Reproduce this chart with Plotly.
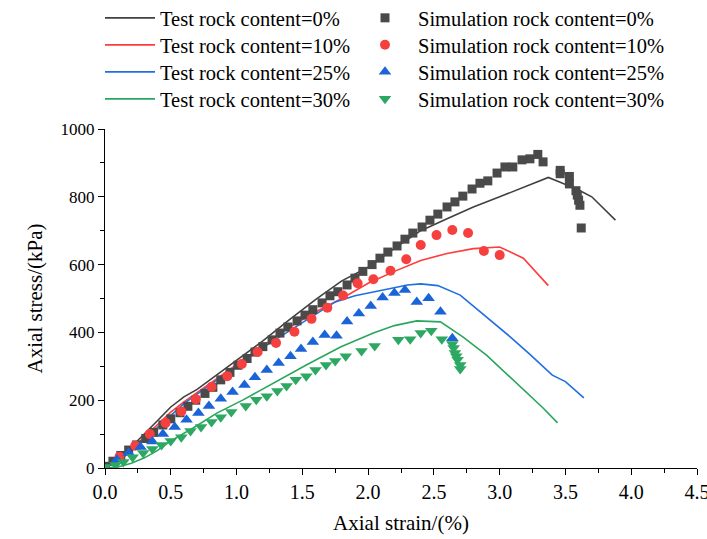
import plotly.graph_objects as go

# ---- test curves (lines) ----
test0_x = [0, 0.1, 0.2, 0.3, 0.4, 0.5, 0.6, 0.7, 0.85, 1.0, 1.2, 1.4, 1.6, 1.8, 2.0, 2.2, 2.4,
           2.6, 2.8, 3.0, 3.2, 3.37, 3.46, 3.6, 3.7, 3.88]
test0_y = [0, 25, 62, 100, 140, 180, 210, 232, 275, 320, 375, 437, 497, 552, 592, 648, 700,
           735, 770, 800, 830, 857, 843, 820, 800, 731]

test10_x = [0, 0.1, 0.2, 0.3, 0.4, 0.5, 0.6, 0.7, 0.85, 1.0, 1.2, 1.4, 1.6, 1.8, 2.0, 2.2, 2.4,
            2.6, 2.8, 2.95, 3.0, 3.18, 3.37]
test10_y = [0, 22, 55, 92, 130, 165, 195, 222, 262, 305, 360, 415, 460, 500, 545, 580, 612,
            633, 647, 652, 652, 619, 538]

test25_x = [0, 0.1, 0.2, 0.3, 0.4, 0.5, 0.6, 0.7, 0.85, 1.0, 1.2, 1.4, 1.6, 1.75, 1.9, 2.1, 2.3,
            2.4, 2.53, 2.7, 2.9, 3.08, 3.23, 3.4, 3.5, 3.64]
test25_y = [0, 20, 50, 85, 122, 157, 190, 218, 258, 300, 355, 405, 455, 490, 508, 525, 540,
            543, 538, 510, 445, 387, 335, 274, 255, 207]

test30_x = [0, 0.1, 0.2, 0.3, 0.4, 0.5, 0.67, 0.85, 1.05, 1.28, 1.53, 1.79, 2.04, 2.2, 2.37,
            2.55, 2.72, 2.9, 3.05, 3.21, 3.33, 3.44]
test30_y = [0, 3, 14, 30, 52, 80, 118, 162, 201, 251, 304, 357, 398, 420, 434,
            431, 387, 333, 278, 221, 177, 133]

# ---- simulation results (markers) ----
sim0_x = [0.0, 0.06, 0.12, 0.18, 0.24, 0.31, 0.37, 0.44, 0.50, 0.57, 0.63, 0.69, 0.76, 0.82,
          0.88, 0.95, 1.01, 1.08, 1.14, 1.20, 1.27, 1.33, 1.39, 1.46, 1.52, 1.58, 1.65, 1.71,
          1.77, 1.84, 1.90, 1.96, 2.03, 2.09, 2.15, 2.22, 2.28, 2.34, 2.41, 2.47, 2.53, 2.60,
          2.66, 2.72, 2.79, 2.85, 2.91, 2.98, 3.04, 3.10, 3.17, 3.23, 3.29, 3.33, 3.46, 3.46,
          3.53, 3.53, 3.58, 3.59, 3.60, 3.61, 3.62]
sim0_y = [5, 20, 37, 53, 68, 87, 105, 127, 145, 163, 182, 200, 220, 238,
          260, 282, 303, 323, 342, 358, 378, 398, 416, 434, 451, 467, 487, 508,
          520, 540, 560, 580, 600, 619, 637, 655, 675, 693, 711, 731, 749, 770,
          785, 802, 823, 840, 847, 870, 888, 888, 909, 912, 925, 903, 878, 868,
          860, 838, 818, 805, 790, 775, 708]

sim10_x = [0.11, 0.23, 0.34, 0.46, 0.58, 0.69, 0.81, 0.93, 1.04, 1.16, 1.30, 1.44, 1.57, 1.69,
           1.81, 1.92, 2.04, 2.17, 2.29, 2.40, 2.52, 2.64, 2.76, 2.88, 3.00]
sim10_y = [33, 66, 100, 133, 167, 203, 239, 271, 307, 342, 369, 402, 440, 473,
           509, 545, 557, 582, 616, 658, 687, 702, 693, 640, 628]

sim25_x = [0.09, 0.18, 0.27, 0.36, 0.44, 0.53, 0.62, 0.71, 0.79, 0.88, 0.97, 1.06, 1.14, 1.23,
           1.32, 1.41, 1.49, 1.58, 1.67, 1.76, 1.84, 1.93, 2.02, 2.11, 2.20, 2.28, 2.37, 2.46,
           2.55, 2.64]
sim25_y = [24, 44, 62, 78, 100, 121, 142, 162, 183, 204, 224, 245, 268, 289,
           310, 330, 351, 372, 392, 390, 432, 456, 478, 503, 516, 525, 490, 501,
           461, 383]

sim30_x = [0.0, 0.08, 0.14, 0.21, 0.29, 0.36, 0.43, 0.50, 0.58, 0.65, 0.73, 0.81, 0.88, 0.96,
           1.07, 1.15, 1.23, 1.31, 1.38, 1.45, 1.53, 1.60, 1.68, 1.75, 1.83, 1.95, 2.05, 2.23,
           2.32, 2.40, 2.48, 2.56, 2.64, 2.65, 2.66, 2.67, 2.68, 2.70, 2.70]
sim30_y = [3, 9, 18, 32, 44, 56, 68, 80, 91, 109, 121, 136, 150, 165,
           183, 201, 212, 227, 242, 260, 271, 289, 304, 316, 330, 345, 360, 378,
           380, 398, 405, 380, 366, 354, 339, 330, 319, 304, 292]

labels = ["0%", "10%", "25%", "30%"]
line_colors = ["#404040", "#ff3b3b", "#1f6fe0", "#2aa65e"]
mark_colors = ["#4a4a4a", "#f5403f", "#1a64d8", "#2ca862"]
symbols = ["square", "circle", "triangle-up", "triangle-down"]
mark_sizes = [9, 10, 11, 11]

tests = [(test0_x, test0_y), (test10_x, test10_y), (test25_x, test25_y), (test30_x, test30_y)]
sims = [(sim0_x, sim0_y), (sim10_x, sim10_y), (sim25_x, sim25_y), (sim30_x, sim30_y)]

FONT = "Liberation Serif"
W, H = 707, 539
M_L, M_R, M_T, M_B = 105, 10, 129, 71
PLOT_W = W - M_L - M_R
LEG_FONT = 20.5
ROW_Y = [18, 45, 72, 99]          # legend row centres, px from top
COL_LEFT = [100, 352]             # legend column left edges, px
COL_ITEMW = [50, 56]              # symbol slot width per column


def legend_name(k):
    return "legend" if k == 1 else f"legend{k}"


fig = go.Figure()
for i in range(4):
    fig.add_trace(go.Scatter(
        x=tests[i][0], y=tests[i][1], mode="lines",
        line=dict(color=line_colors[i], width=1.6),
        name="Test rock content=" + labels[i], legend=legend_name(i + 1)))
for i in range(4):
    fig.add_trace(go.Scatter(
        x=sims[i][0], y=sims[i][1], mode="markers",
        marker=dict(color=mark_colors[i], symbol=symbols[i], size=mark_sizes[i],
                    line=dict(width=0)),
        name="Simulation rock content=" + labels[i], legend=legend_name(i + 5)))

# one single-entry legend per row so the two columns line up exactly
legends = {}
for col in range(2):
    for row in range(4):
        k = col * 4 + row + 1
        legends[legend_name(k)] = dict(
            xref="paper", yref="container",
            x=(COL_LEFT[col] - M_L) / PLOT_W,
            y=1 - ROW_Y[row] / H,
            xanchor="left", yanchor="middle",
            font=dict(family=FONT, size=LEG_FONT, color="black"),
            itemwidth=COL_ITEMW[col], bgcolor="rgba(0,0,0,0)", borderwidth=0,
        )

axis_common = dict(
    showline=True, linecolor="black", linewidth=1.3,
    ticks="outside", ticklen=6, tickwidth=1.3, tickcolor="black",
    showgrid=False, zeroline=False, mirror=False, automargin=False,
)

fig.update_layout(
    width=W, height=H,
    margin=dict(l=M_L, r=M_R, t=M_T, b=M_B),
    paper_bgcolor="white", plot_bgcolor="white",
    font=dict(family=FONT, color="black"),
    showlegend=True,
    xaxis=dict(range=[0, 4.5], dtick=0.5, tickformat=".1f", ticklabeloverflow="allow",
               tickfont=dict(family=FONT, size=20, color="black"),
               minor=dict(dtick=0.25, ticks="outside", ticklen=4, tickwidth=1.3, tickcolor="black"),
               title=dict(text="Axial strain/(%)", font=dict(family=FONT, size=21), standoff=13),
               **axis_common),
    yaxis=dict(range=[0, 1000], dtick=200,
               tickfont=dict(family=FONT, size=17, color="black"),
               minor=dict(dtick=100, ticks="outside", ticklen=4, tickwidth=1.3, tickcolor="black"),
               title=dict(text="Axial stress/(kPa)", font=dict(family=FONT, size=21), standoff=12),
               **axis_common),
    **legends,
)

fig.write_html("out.html")
